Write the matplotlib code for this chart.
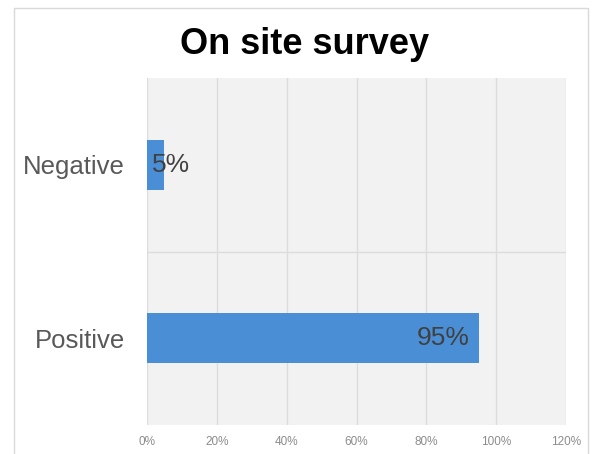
import matplotlib.pyplot as plt
from matplotlib.patches import Rectangle
from matplotlib.ticker import FuncFormatter, FixedLocator

plt.rcParams['font.family'] = ['Liberation Sans', 'DejaVu Sans']

# Survey results
categories = ["Positive", "Negative"]
shares = [95, 5]
tick_values = [0, 20, 40, 60, 80, 100, 120]

fig = plt.figure(figsize=(6, 4.54), dpi=100)
# Light outer frame of the chart
fig.patches.append(Rectangle((14 / 600, -10 / 454), 574 / 600, 456 / 454,
                             transform=fig.transFigure, fill=False,
                             edgecolor="#d9d9d9", linewidth=1))

ax = fig.add_axes([147 / 600, 29 / 454, 419 / 600, 347 / 454])
ax.set_facecolor("#f2f2f2")

ypos = range(len(categories))
ax.barh(ypos, shares, height=0.29, color="#4a8fd6", zorder=3)

ax.set_xlim(tick_values[0], tick_values[-1])
ax.set_ylim(-0.5, len(categories) - 0.5)
ax.set_xticks(tick_values)
ax.xaxis.set_major_formatter(FuncFormatter(lambda v, _: f"{v:.0f}%"))
ax.set_yticks(list(ypos))
ax.set_yticklabels(categories)
ax.tick_params(axis="x", labelsize=8.5, colors="#8c8c8c", length=0, pad=8)
ax.tick_params(axis="y", labelsize=18.5, labelcolor="#595959", length=0, pad=16)

# Vertical grid plus a separator between categories
ax.xaxis.grid(True, color="#dcdcdc", linewidth=1, zorder=0)
ax.yaxis.set_minor_locator(FixedLocator([0.5]))
ax.yaxis.grid(True, which="minor", color="#dcdcdc", linewidth=1, zorder=0)
ax.tick_params(axis="y", which="minor", length=0)
for s in ax.spines.values():
    s.set_visible(False)

# Value labels at the inside end of each bar
for i, v in enumerate(shares):
    if v > 20:
        ax.text(v - 2.5, i, f"{v}%", ha="right", va="center",
                fontsize=19, color="#404040", zorder=4)
    else:
        ax.text(1.5, i, f"{v}%", ha="left", va="center",
                fontsize=19, color="#404040", zorder=4)

fig.text(0.508, 0.903, "On site survey", ha="center", va="center",
         fontsize=26, fontweight="bold", color="black")

fig.savefig("out.png", dpi=100)
